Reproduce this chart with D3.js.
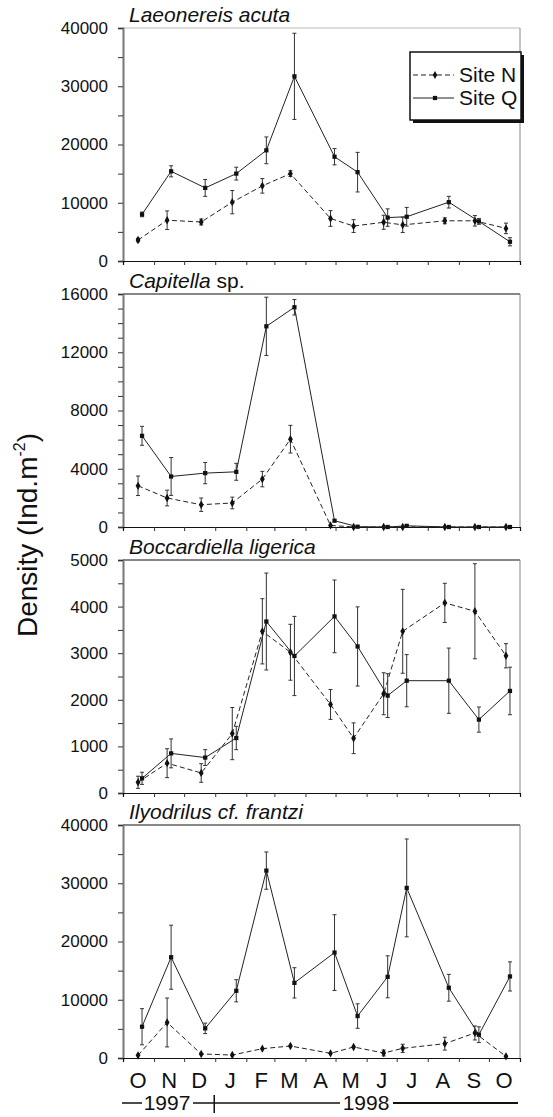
<!DOCTYPE html>
<html>
<head>
<meta charset="utf-8">
<script src="https://d3js.org/d3.v7.min.js"></script>
<style>
  body { margin: 0; background: #fff; }
  svg text { font-family: "Liberation Sans", Arial, sans-serif; fill: #111; }
</style>
</head>
<body>
<div id="chart"></div>
<script>
// sampling dates (Oct 1997 - Oct 1998)
var sampleDates = ["1997-10-18","1997-11-16","1997-12-20","1998-01-20","1998-02-19","1998-03-19",
                   "1998-04-28","1998-05-21","1998-06-20","1998-07-09","1998-08-20","1998-09-19","1998-10-20"];
var monthLabels = ["O","N","D","J","F","M","A","M","J","J","A","S","O"];

// Laeonereis acuta
var laeoN   = [3600, 7000, 6700, 10100, 12900, 15000, 7300, 6000, 6650, 6200, 6900, 6900, 5600];
var laeoNse = [300, 1600, 500, 2000, 1250, 500, 1350, 1100, 1200, 1300, 500, 900, 900];
var laeoQ   = [8000, 15400, 12550, 15000, 19000, 31700, 17900, 15250, 7450, 7600, 10100, 6800, 3300];
var laeoQse = [400, 950, 1450, 1100, 2300, 7400, 1400, 3400, 1500, 1600, 1000, 500, 700];

// Capitella sp.
var capN   = [2830, 1990, 1530, 1650, 3290, 6030, 110, 0, 0, 0, 0, 0, 0];
var capNse = [670, 540, 460, 400, 530, 950, 0, 0, 0, 0, 0, 0, 0];
var capQ   = [6260, 3470, 3700, 3790, 13780, 15090, 430, 20, 0, 80, 0, 0, 0];
var capQse = [650, 1300, 730, 580, 2000, 530, 0, 0, 0, 0, 0, 0, 0];

// Boccardiella ligerica
var bocN   = [230, 640, 430, 1275, 3470, 3020, 1900, 1175, 2130, 3470, 4080, 3900, 2945];
var bocNse = [130, 310, 200, 560, 700, 600, 320, 330, 450, 900, 420, 1020, 260];
var bocQ   = [315, 850, 760, 1180, 3680, 2940, 3790, 3145, 2090, 2410, 2410, 1575, 2190];
var bocQse = [130, 310, 170, 250, 1040, 850, 780, 850, 470, 560, 700, 270, 510];

// Ilyodrilus cf. frantzi
var ilyN   = [460, 6100, 690, 510, 1600, 2060, 800, 1890, 860, 1660, 2460, 4300, 290];
var ilyNse = [0, 4200, 0, 0, 0, 0, 0, 0, 500, 700, 1100, 1200, 0];
var ilyQ   = [5370, 17300, 5090, 11540, 32170, 12900, 18100, 7200, 13940, 29200, 12060, 4000, 14000];
var ilyQse = [3100, 5500, 900, 1900, 3200, 2600, 6500, 2100, 3600, 8400, 2300, 1350, 2500];

var parseDate = d3.timeParse("%Y-%m-%d");
var dates = sampleDates.map(parseDate);

var width = 553, height = 1117;
var left = 123, right = 520;

var panels = [
  {title: [["Laeonereis acuta", true]], max: 40000, step: 5000, labelStep: 10000, top: 28, bottom: 261,
   N: laeoN, Nse: laeoNse, Q: laeoQ, Qse: laeoQse, frameTop: "#bbb"},
  {title: [["Capitella", true], [" sp.", false]], max: 16000, step: 1000, labelStep: 4000, top: 294, bottom: 527,
   N: capN, Nse: capNse, Q: capQ, Qse: capQse, frameTop: "#111"},
  {title: [["Boccardiella ligerica", true]], max: 5000, step: 500, labelStep: 1000, top: 560, bottom: 793,
   N: bocN, Nse: bocNse, Q: bocQ, Qse: bocQse, frameTop: "#111"},
  {title: [["Ilyodrilus cf. frantzi", true]], max: 40000, step: 5000, labelStep: 10000, top: 825, bottom: 1058,
   N: ilyN, Nse: ilyNse, Q: ilyQ, Qse: ilyQse, frameTop: "#111"}
];

var svg = d3.select("#chart").append("svg")
    .attr("width", width)
    .attr("height", height);

var x = d3.scaleTime()
    .domain([new Date(1997, 9, 1), new Date(1998, 10, 1)])
    .range([left, right]);

var monthStarts = d3.timeMonth.range(new Date(1997, 9, 1), new Date(1998, 10, 1));
var monthBounds = monthStarts.slice(1);

panels.forEach(function(p, pi) {
  var y = d3.scaleLinear().domain([0, p.max]).range([p.bottom, p.top]);
  var g = svg.append("g");

  // frame top and right
  g.append("line").attr("x1", left).attr("x2", right).attr("y1", p.top).attr("y2", p.top)
    .attr("stroke", p.frameTop).attr("stroke-width", 1);
  g.append("line").attr("x1", right).attr("x2", right).attr("y1", p.top).attr("y2", p.bottom)
    .attr("stroke", "#888").attr("stroke-width", 1);

  // y axis
  var yTicks = d3.range(0, p.max + 1, p.step);
  var yAxis = g.append("g")
    .attr("transform", "translate(" + left + ",0)")
    .call(d3.axisLeft(y).tickValues(yTicks).tickSize(5).tickPadding(10)
      .tickFormat(function(d) { return d % p.labelStep === 0 ? d : ""; }));
  yAxis.select(".domain").attr("stroke", "#777").attr("stroke-width", 2);
  yAxis.selectAll(".tick line").attr("stroke", "#333");
  yAxis.selectAll("text").style("font-size", "17px").attr("fill", "#111");

  // x axis
  var xAxis = g.append("g")
    .attr("transform", "translate(0," + p.bottom + ")")
    .call(d3.axisBottom(x).tickValues(monthBounds).tickSize(4).tickFormat(""));
  xAxis.select(".domain").attr("stroke", "#111").attr("stroke-width", 1.2);
  xAxis.selectAll(".tick line").attr("stroke", "#333");

  // title
  var t = g.append("text").attr("x", 129).attr("y", p.top - 6).style("font-size", "21px");
  p.title.forEach(function(part) {
    t.append("tspan").text(part[0]).style("font-style", part[1] ? "italic" : "normal");
  });

  var series = [
    {vals: p.N, se: p.Nse, dash: "5,3", off: -2, shape: d3.symbolDiamond},
    {vals: p.Q, se: p.Qse, dash: null, off: 2, shape: d3.symbolSquare}
  ];

  series.forEach(function(s) {
    var pts = s.vals.map(function(v, i) { return {d: dates[i], v: v, se: s.se[i]}; });
    var px = function(d) { return x(d.d) + s.off; };

    // error bars
    var eb = g.append("g").selectAll("g").data(pts.filter(function(d) { return d.se > 0; }))
      .enter().append("g").attr("stroke", "#333").attr("stroke-width", 1);
    eb.append("line")
      .attr("x1", px).attr("x2", px)
      .attr("y1", function(d) { return y(d.v + d.se); })
      .attr("y2", function(d) { return y(Math.max(0, d.v - d.se)); });
    eb.append("line")
      .attr("x1", function(d) { return px(d) - 2; }).attr("x2", function(d) { return px(d) + 2; })
      .attr("y1", function(d) { return y(d.v + d.se); }).attr("y2", function(d) { return y(d.v + d.se); });
    eb.append("line")
      .attr("x1", function(d) { return px(d) - 2; }).attr("x2", function(d) { return px(d) + 2; })
      .attr("y1", function(d) { return y(Math.max(0, d.v - d.se)); }).attr("y2", function(d) { return y(Math.max(0, d.v - d.se)); });

    // line
    g.append("path")
      .datum(pts)
      .attr("d", d3.line().x(px).y(function(d) { return y(d.v); }))
      .attr("fill", "none")
      .attr("stroke", "#222")
      .attr("stroke-width", 1)
      .attr("stroke-dasharray", s.dash);

    // markers
    g.append("g").selectAll("path").data(pts).enter().append("path")
      .attr("d", d3.symbol().type(s.shape).size(s.shape === d3.symbolSquare ? 18 : 20))
      .attr("transform", function(d) { return "translate(" + px(d) + "," + y(d.v) + ")"; })
      .attr("fill", "#111");
  });

  // month labels on last panel
  if (pi === panels.length - 1) {
    g.selectAll(".mlab").data(monthStarts).enter().append("text")
      .attr("x", function(d) { return x(d3.timeDay.offset(d, 15)); })
      .attr("y", 1088)
      .attr("text-anchor", "middle")
      .style("font-size", "22px")
      .text(function(d, i) { return monthLabels[i]; });
  }
});

// year bar under months
var yearY = 1103;
var jan98 = new Date(1998, 0, 1);
var yr = svg.append("g").attr("stroke", "#111").attr("stroke-width", 1.5);
yr.append("line").attr("x1", left - 1).attr("x2", 142).attr("y1", yearY).attr("y2", yearY);
yr.append("line").attr("x1", 193).attr("x2", 340).attr("y1", yearY).attr("y2", yearY);
yr.append("line").attr("x1", 393).attr("x2", right - 2).attr("y1", yearY).attr("y2", yearY).attr("stroke-width", 2);
yr.append("line").attr("x1", x(jan98) - 1).attr("x2", x(jan98) - 1).attr("y1", yearY - 8).attr("y2", yearY + 10);
svg.append("text").attr("x", 167).attr("y", 1110).attr("text-anchor", "middle")
  .style("font-size", "21px").text("1997");
svg.append("text").attr("x", 366).attr("y", 1110).attr("text-anchor", "middle")
  .style("font-size", "21px").text("1998");

// y axis title
var yl = svg.append("text")
  .attr("transform", "translate(37,535) rotate(-90)")
  .attr("text-anchor", "middle")
  .style("font-size", "28px");
yl.append("tspan").text("Density (Ind.m");
yl.append("tspan").text("-2").style("font-size", "16px").attr("dy", -12);
yl.append("tspan").text(")").attr("dy", 12);

// legend
var lg = svg.append("g");
lg.append("rect").attr("x", 413).attr("y", 55).attr("width", 111).attr("height", 68).attr("fill", "#111");
lg.append("rect").attr("x", 410).attr("y", 52).attr("width", 111).attr("height", 68)
  .attr("fill", "#fff").attr("stroke", "#111").attr("stroke-width", 1.5);
var legendItems = [
  {label: "Site N", dash: "5,3", shape: d3.symbolDiamond, y: 75},
  {label: "Site Q", dash: null, shape: d3.symbolSquare, y: 98}
];
legendItems.forEach(function(it) {
  lg.append("line").attr("x1", 413).attr("x2", 454).attr("y1", it.y).attr("y2", it.y)
    .attr("stroke", "#222").attr("stroke-width", 1.2).attr("stroke-dasharray", it.dash);
  lg.append("path").attr("d", d3.symbol().type(it.shape).size(18))
    .attr("transform", "translate(435," + it.y + ")").attr("fill", "#111");
  lg.append("text").attr("x", 459).attr("y", it.y + 7).style("font-size", "21px").text(it.label);
});
</script>
</body>
</html>
